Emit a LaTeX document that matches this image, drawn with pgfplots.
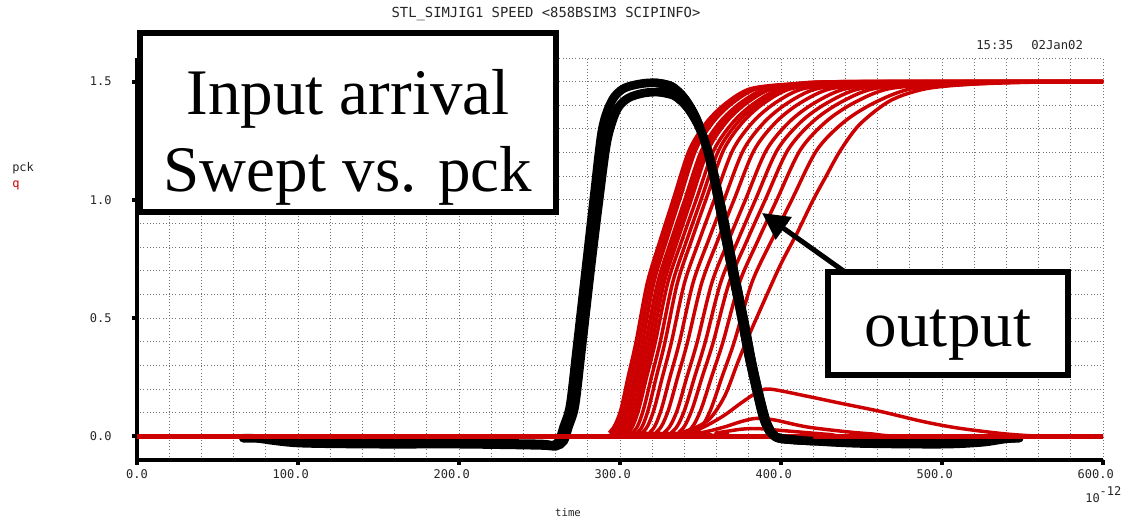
\documentclass[border=0pt]{standalone}
\usepackage{pgfplots}
\pgfplotsset{compat=1.18}
\usepackage{fontspec}
\setmonofont{DejaVu Sans Mono}
\newfontfamily\tnr{Liberation Serif}
\usetikzlibrary{arrows.meta}
\definecolor{simred}{RGB}{204,0,0}
\newcommand\dl[2]{\makebox[0pt][r]{#1}.\makebox[0pt][l]{#2}}
\pgfplotstableread{
t v
66 -0.008
80 -0.01
100 -0.022
150 -0.027
200 -0.028
250 -0.032
258 -0.038
262 -0.02
265 0.04
269 0.13
273 0.36
279 0.72
284 1.02
289 1.3
295 1.42
302 1.47
312 1.49
322 1.495
332 1.48
340 1.43
347 1.35
353 1.24
358 1.1
363 0.93
369 0.72
375 0.52
380 0.34
385 0.19
389 0.08
393 0.02
398 -0.005
410 -0.015
440 -0.025
480 -0.03
520 -0.025
535 -0.012
545 -0.008
}\pckA
\pgfplotstableread{
t v
75 -0.008
100 -0.028
150 -0.033
200 -0.033
250 -0.038
260 -0.042
265 -0.02
268 0.04
272 0.13
276 0.36
282 0.72
287 1.0
292 1.25
298 1.38
305 1.43
315 1.452
325 1.455
334 1.44
342 1.39
349 1.31
355 1.2
360 1.06
365 0.9
371 0.69
377 0.49
382 0.31
387 0.16
391 0.06
395 0.01
400 -0.01
420 -0.02
450 -0.03
500 -0.033
525 -0.025
540 -0.01
548 -0.008
}\pckB
\begin{document}
\begin{tikzpicture}[x=1pt,y=1pt]
\useasboundingbox (0,0) rectangle (840.75,391.5);
\begin{axis}[
  at={(102.75pt,46.5pt)}, anchor=south west,
  scale only axis, width=724.5pt, height=301.5pt,
  xmin=0, xmax=600, ymin=-0.1, ymax=1.6,
  axis x line=bottom, axis y line=left,
  axis line style={line width=3pt,-,black},
  xtick={0,100,...,600},
  xticklabels={\dl{0}{0},\dl{100}{0},\dl{200}{0},\dl{300}{0},\dl{400}{0},\dl{500}{0},\dl{600}{0}},
  ytick={0,0.5,1,1.5},
  yticklabels={0.0,0.5,1.0,1.5},
  minor xtick={20,40,...,580},
  minor ytick={0.1,0.2,0.3,0.4,0.6,0.7,0.8,0.9,1.1,1.2,1.3,1.4,1.6},
  grid=both,
  major grid style={black!55, line width=0.7pt, dash pattern=on 0.7pt off 1.7pt},
  minor grid style={black!55, line width=0.7pt, dash pattern=on 0.7pt off 1.7pt},
  tick align=outside,
  major tick length=3.5pt,
  minor tick length=0pt,
  every tick/.style={black, line width=3pt},
  tick label style={font=\ttfamily\fontsize{9}{9}\selectfont, text=black!85},
  yticklabel style={anchor=east, xshift=-12pt},
  xticklabel style={anchor=north},
  every axis plot/.append style={no markers},
]
% pck (input), lower layer
\addplot[black, line width=6.5pt, smooth, line cap=round] table {\pckA};
\addplot[black, line width=6.5pt, smooth, line cap=round] table {\pckB};
% baseline of q
\addplot[simred, line width=4pt] coordinates {(0,0) (600,0)};
% q sweeps
\addplot[simred, line width=2.6pt, smooth] coordinates {(0,0)(284,0)(294,0.02)(300,0.1)(305,0.25)(310,0.4)(317,0.65)(325,0.83)(333,1.0)(343,1.21)(354,1.33)(366,1.41)(381,1.47)(406,1.49)(440,1.5)(600,1.5)};
\addplot[simred, line width=2.6pt, smooth] coordinates {(0,0)(286,0)(296,0.02)(302,0.1)(307,0.25)(312,0.4)(319,0.65)(327,0.83)(335,1.0)(345,1.21)(356,1.33)(368,1.41)(383,1.47)(408,1.49)(442,1.5)(600,1.5)};
\addplot[simred, line width=2.6pt, smooth] coordinates {(0,0)(288,0)(298,0.02)(304,0.1)(309,0.25)(314,0.4)(321,0.65)(329,0.83)(337,1.0)(347,1.21)(358,1.33)(370,1.41)(385,1.47)(410,1.49)(444,1.5)(600,1.5)};
\addplot[simred, line width=2.6pt, smooth] coordinates {(0,0)(289,0)(300,0.02)(305.5,0.1)(310.8,0.25)(316,0.4)(323.4,0.65)(331.8,0.83)(340.2,1.0)(350.7,1.21)(362.2,1.33)(374.8,1.41)(390.6,1.47)(416.8,1.49)(452.5,1.5)(600,1.5)};
\addplot[simred, line width=2.6pt, smooth] coordinates {(0,0)(291,0)(302,0.02)(307.5,0.1)(312.8,0.25)(318,0.4)(325.4,0.65)(333.8,0.83)(342.2,1.0)(352.7,1.21)(364.2,1.33)(376.8,1.41)(392.6,1.47)(418.8,1.49)(454.5,1.5)(600,1.5)};
\addplot[simred, line width=2.6pt, smooth] coordinates {(0,0)(293,0)(304,0.02)(309.5,0.1)(314.8,0.25)(320,0.4)(327.4,0.65)(335.8,0.83)(344.2,1.0)(354.7,1.21)(366.2,1.33)(378.8,1.41)(394.6,1.47)(420.8,1.49)(456.5,1.5)(600,1.5)};
\addplot[simred, line width=2.6pt, smooth] coordinates {(0,0)(294,0)(305.5,0.02)(311,0.1)(316.5,0.25)(322,0.4)(329.7,0.65)(338.5,0.83)(347.3,1.0)(358.3,1.21)(370.4,1.33)(383.6,1.41)(400.1,1.47)(427.6,1.49)(465,1.5)(600,1.5)};
\addplot[simred, line width=2.6pt, smooth] coordinates {(0,0)(297,0)(308.5,0.02)(314,0.1)(319.5,0.25)(325,0.4)(332.7,0.65)(341.5,0.83)(350.3,1.0)(361.3,1.21)(373.4,1.33)(386.6,1.41)(403.1,1.47)(430.6,1.49)(468,1.5)(600,1.5)};
\addplot[simred, line width=2.6pt, smooth] coordinates {(0,0)(300,0)(311.5,0.02)(317,0.1)(322.5,0.25)(328,0.4)(335.7,0.65)(344.5,0.83)(353.3,1.0)(364.3,1.21)(376.4,1.33)(389.6,1.41)(406.1,1.47)(433.6,1.49)(471,1.5)(600,1.5)};
\addplot[simred, line width=2.6pt, smooth] coordinates {(0,0)(302.5,0)(314.5,0.02)(320.5,0.1)(326.3,0.25)(332,0.4)(340.1,0.65)(349.3,0.83)(358.5,1.0)(370,1.21)(382.6,1.33)(396.4,1.41)(413.7,1.47)(442.4,1.49)(481.5,1.5)(600,1.5)};
\addplot[simred, line width=2.6pt, smooth] coordinates {(0,0)(306,0)(319,0.02)(325,0.1)(331,0.25)(337,0.4)(345.4,0.65)(355,0.83)(364.6,1.0)(376.6,1.21)(389.8,1.33)(404.2,1.41)(422.2,1.47)(452.2,1.49)(493,1.5)(600,1.5)};
\addplot[simred, line width=2.6pt, smooth] coordinates {(0,0)(310,0)(323,0.02)(329.5,0.1)(335.8,0.25)(342,0.4)(350.8,0.65)(360.8,0.83)(370.8,1.0)(383.3,1.21)(397,1.33)(412,1.41)(430.8,1.47)(462,1.49)(504.5,1.5)(600,1.5)};
\addplot[simred, line width=2.6pt, smooth] coordinates {(0,0)(314,0)(328,0.02)(335,0.1)(341.5,0.25)(348,0.4)(357.1,0.65)(367.5,0.83)(377.9,1.0)(390.9,1.21)(405.2,1.33)(420.8,1.41)(440.3,1.47)(472.8,1.49)(517,1.5)(600,1.5)};
\addplot[simred, line width=2.6pt, smooth] coordinates {(0,0)(318,0)(332.5,0.02)(339.5,0.1)(346.3,0.25)(353,0.4)(362.5,0.65)(373.3,0.83)(384.1,1.0)(397.6,1.21)(412.4,1.33)(428.6,1.41)(448.9,1.47)(482.6,1.49)(528.5,1.5)(600,1.5)};
\addplot[simred, line width=2.6pt, smooth] coordinates {(0,0)(322,0)(337,0.02)(344,0.1)(351,0.25)(358,0.4)(367.8,0.65)(379,0.83)(390.2,1.0)(404.2,1.21)(419.6,1.33)(436.4,1.41)(457.4,1.47)(492.4,1.49)(540,1.5)(600,1.5)};
\addplot[simred, line width=2.6pt, smooth] coordinates {(0,0)(326,0)(342,0.02)(349.5,0.1)(356.8,0.25)(364,0.4)(374.2,0.65)(385.8,0.83)(397.4,1.0)(411.9,1.21)(427.8,1.33)(445.2,1.41)(467,1.47)(503.2,1.49)(552.5,1.5)(600,1.5)};
\addplot[simred, line width=2.6pt, smooth] coordinates {(0,0)(330,0)(347.5,0.02)(355.5,0.1)(363.3,0.25)(371,0.4)(381.9,0.65)(394.3,0.83)(406.7,1.0)(422.2,1.21)(439.2,1.33)(457.8,1.41)(481.1,1.47)(519.8,1.49)(572.5,1.5)(600,1.5)};
\addplot[simred, line width=2.6pt, smooth] coordinates {(0,0)(320,0)(340,0.02)(355,0.07)(365,0.17)(373,0.31)(379,0.41)(390,0.58)(400,0.73)(410,0.86)(420,1.0)(428,1.1)(437,1.21)(449,1.32)(468,1.42)(490,1.47)(520,1.49)(560,1.5)(600,1.5)};
% non-switching bumps
\addplot[simred, line width=2.6pt, smooth] coordinates {(0,0)(330,0)(345,0.02)(355,0.05)(365,0.09)(375,0.14)(385,0.185)(393,0.2)(416,0.17)(437,0.14)(462,0.105)(488,0.063)(510,0.035)(540,0.01)(565,0)(600,0)};
\addplot[simred, line width=2.6pt, smooth] coordinates {(0,0)(330,0)(350,0.015)(365,0.04)(374,0.06)(383,0.075)(390,0.074)(397,0.068)(416,0.04)(440,0.02)(457,0.01)(480,0)(600,0)};
\addplot[simred, line width=2.6pt, smooth] coordinates {(0,0)(340,0)(360,0.015)(375,0.03)(385,0.033)(400,0.025)(430,0.008)(450,0)(600,0)};
% pck falling edge on top of q
\addplot[black, line width=6.5pt, smooth] table[x=t,y=v] {
t v
322 1.495
332 1.48
340 1.43
347 1.35
353 1.24
358 1.1
363 0.93
369 0.72
375 0.52
380 0.34
385 0.19
389 0.08
393 0.02
398 -0.005
410 -0.015
};
\addplot[black, line width=6.5pt, smooth] table[x=t,y=v] {
t v
325 1.455
334 1.44
342 1.39
349 1.31
355 1.2
360 1.06
365 0.9
371 0.69
377 0.49
382 0.31
387 0.16
391 0.06
395 0.01
400 -0.01
420 -0.02
};
\end{axis}
% header texts
\node[anchor=base, font=\ttfamily\fontsize{10.4}{10.4}\selectfont, text=black!85] at (409.5,378.5) {STL\_SIMJIG1 SPEED <858BSIM3 SCIPINFO>};
\node[anchor=base west, inner sep=0pt, font=\ttfamily\fontsize{9.2}{9.2}\selectfont, text=black!85] at (732,354) {15:35};
\node[anchor=base west, inner sep=0pt, font=\ttfamily\fontsize{9.2}{9.2}\selectfont, text=black!85] at (773.25,354) {02Jan02};
\node[anchor=base west, inner sep=0pt, font=\ttfamily\fontsize{9}{9}\selectfont, text=black!85] at (9,262.5) {pck};
\node[anchor=base west, inner sep=0pt, font=\ttfamily\fontsize{9}{9}\selectfont, text=simred] at (9,251) {q};
\node[anchor=center, font=\ttfamily\fontsize{8}{8}\selectfont, text=black!85] at (426,6.75) {time};
\node[anchor=base west, inner sep=0pt, font=\ttfamily\fontsize{9}{9}\selectfont, text=black!85] at (813.75,15) {10\raisebox{5pt}{-12}};
% annotation boxes
\draw[line width=4.5pt, fill=white] (105,366.75) rectangle (417,232.5);
\node[align=center, font=\tnr\fontsize{48.75}{57.75}\selectfont] at (261,288.5) {Input arrival\\Swept vs. pck};
\draw[line width=4.5pt, fill=white] (621,187.5) rectangle (801,110.25);
\node[font=\tnr\fontsize{48.75}{57.75}\selectfont] at (711,140) {output};
\draw[line width=3.75pt, -{Triangle[length=20pt,width=20pt]}] (633.75,187.5) -- (571.5,231.75);
\end{tikzpicture}
\end{document}
